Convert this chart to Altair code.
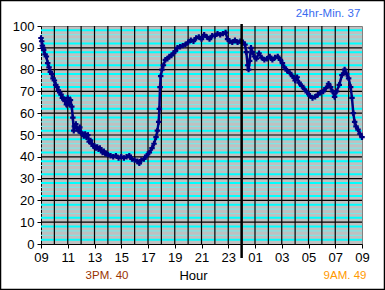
import altair as alt
import pandas as pd

# Readings: (hours since 09:00, value)
readings = [
    (0.00,94.5),(0.05,93),(0.10,91),(0.15,90),(0.20,89),(0.30,87),(0.40,86),(0.50,83),
    (0.60,81),(0.70,79),(0.80,78),(0.90,76),(1.00,75),(1.10,73),(1.20,72),(1.30,70.5),
    (1.40,69.5),(1.50,68.5),(1.60,67),(1.70,66.5),(1.80,65.5),(1.90,64),(2.00,67),(2.10,64.5),
    (2.20,66),(2.30,63),(2.38,58),(2.45,52),(2.50,54),(2.60,55),(2.70,53),(2.80,52),
    (2.90,53.5),(3.00,51),(3.10,50.5),(3.20,49.5),(3.30,50.5),(3.40,49),(3.50,50),(3.60,47),
    (3.70,47.5),(3.80,46),(3.90,45),(4.00,45),(4.10,44),(4.20,44.5),(4.30,43.5),(4.40,44),
    (4.50,43),(4.60,42),(4.70,42.5),(4.80,41.5),(4.90,41.5),(5.00,41),(5.20,40.5),(5.40,40),
    (5.60,40.5),(5.80,39.5),(6.00,40),(6.20,39.5),(6.40,40),(6.60,40.5),(6.80,39),(7.00,38.5),
    (7.20,38),(7.35,37),(7.50,38.5),(7.70,39),(7.90,40.5),(8.10,42),(8.30,44),(8.45,46),
    (8.60,49),(8.70,52),(8.80,56),(8.85,62),(8.90,72),(8.95,77),(9.05,80),(9.15,82),
    (9.30,84.5),(9.45,85),(9.60,86),(9.75,86.5),(9.90,87.5),(10.05,88.5),(10.20,90),(10.40,90.5),
    (10.60,91),(10.80,91.5),(11.00,92.5),(11.20,93.5),(11.40,93),(11.60,94.5),(11.80,95),(12.00,94),
    (12.20,96),(12.40,95),(12.60,94),(12.80,95.5),(13.00,95.5),(13.20,96.5),(13.40,96),(13.60,96.5),
    (13.80,97),(13.95,94),(14.10,93),(14.30,92.5),(14.50,93.5),(14.70,92.5),(14.90,93),(15.10,92.5),
    (15.25,91.5),(15.35,88),(15.45,82),(15.52,80),(15.60,84),(15.70,90),(15.80,88),(15.95,86),
    (16.10,85),(16.30,87.5),(16.50,85.5),(16.70,84.5),(16.90,85),(17.10,86),(17.30,84.5),(17.50,85.5),
    (17.70,86),(17.90,84.5),(18.05,83),(18.20,81),(18.40,79.5),(18.60,78.5),(18.80,77),(19.00,75),
    (19.15,76.5),(19.30,74),(19.50,72.5),(19.70,71),(19.90,69.5),(20.10,68),(20.30,67),(20.50,67.5),
    (20.70,68.5),(20.90,69.5),(21.10,70),(21.30,71.5),(21.50,73.5),(21.65,72),(21.80,70),(21.95,67.5),
    (22.10,70),(22.30,73),(22.50,77.5),(22.70,80),(22.85,78),(23.00,76),(23.15,72),(23.25,67),
    (23.35,60),(23.45,56),(23.55,54),(23.70,52.5),(23.85,50.5),(24.00,49),
]
hours = [r[0] for r in readings]
values = [r[1] for r in readings]

tick_labels = ["09", "11", "13", "15", "17", "19", "21", "23", "01", "03", "05", "07", "09"]
y_ticks = [0, 10, 20, 30, 40, 50, 60, 70, 80, 90, 100]
midnight = [15]
title_min = "24hr-Min. 37"
note_3pm = "3PM. 40"
note_9am = "9AM. 49"
x_title = "Hour"

FONT = "Liberation Sans"

df = pd.DataFrame({"h": hours, "v": values})
vgrid = pd.DataFrame({"h": list(range(1, 24))})
hmajor = pd.DataFrame({"v": list(range(10, 100, 10))})
hminor_a = pd.DataFrame({"v": [v for v in range(2, 100, 2) if v % 10 in (2, 8)]})
hminor_b = pd.DataFrame({"v": [v for v in range(2, 100, 2) if v % 10 in (4, 6)]})

xscale = alt.Scale(domain=[0, 24], nice=False, zero=False)
yscale = alt.Scale(domain=[0, 100], nice=False)

label_expr = "[" + ",".join("'%s'" % t for t in tick_labels) + "][round(datum.value/2)]"

xaxis = alt.Axis(values=list(range(0, 25, 2)), labelExpr=label_expr, title=None)
yaxis = alt.Axis(values=y_ticks, title=None)

minor_a = alt.Chart(hminor_a).mark_rule(color="#00FFFF", strokeWidth=2).encode(
    y=alt.Y("v:Q", scale=yscale, axis=yaxis))
minor_b = alt.Chart(hminor_b).mark_rule(color="#7EE6E6", strokeWidth=1.2).encode(
    y=alt.Y("v:Q", scale=yscale, axis=yaxis))
major = alt.Chart(hmajor).mark_rule(color="black", strokeWidth=1.2).encode(
    y=alt.Y("v:Q", scale=yscale, axis=yaxis))
vlines = alt.Chart(vgrid).mark_rule(color="black", strokeWidth=1.2).encode(
    x=alt.X("h:Q", scale=xscale, axis=xaxis))
mid = alt.Chart(pd.DataFrame({"h": midnight})).mark_rule(color="black", strokeWidth=2.5, clip=False).encode(
    x=alt.X("h:Q", scale=xscale, axis=xaxis), y=alt.value(-2), y2=alt.value(232))

line = alt.Chart(df).mark_line(color="#000080", strokeWidth=2.5).encode(
    x=alt.X("h:Q", scale=xscale, axis=xaxis), y=alt.Y("v:Q", scale=yscale, axis=yaxis))
pts = alt.Chart(df).mark_point(shape="cross", color="#000080", filled=True, size=30, opacity=1).encode(
    x=alt.X("h:Q", scale=xscale, axis=xaxis), y=alt.Y("v:Q", scale=yscale, axis=yaxis))

def txt(s, x, y, color, size=11.5):
    return alt.Chart(pd.DataFrame({"t": [s]})).mark_text(
        font=FONT, fontSize=size, color=color, align="center", baseline="middle").encode(
        text="t:N", x=alt.value(x), y=alt.value(y))

t1 = txt(title_min, 287, -12, "#3A6CF0")
t2 = txt(note_3pm, 66, 31.5 + 218, "#993300")
t3 = txt(x_title, 152.5, 31.5 + 218, "black", 13)
t4 = txt(note_9am, 304, 31.5 + 218, "#FF9900")

frame = alt.Chart(pd.DataFrame({"t": [0]})).mark_rect(
    fill=None, filled=False, stroke="black", strokeWidth=1.5, clip=False).encode(
    x=alt.value(-40.5), x2=alt.value(343.5), y=alt.value(-25.5), y2=alt.value(263.5))

chart = alt.layer(minor_a, minor_b, major, vlines, line, pts, mid, t1, t2, t3, t4, frame).properties(
    width=321, height=218,
    autosize=alt.AutoSizeParams(type="none"),
    padding={"left": 41, "top": 26, "right": 23, "bottom": 46},
    background="white",
).configure_view(
    fill="#C0C0C0", stroke="#808080", strokeWidth=1
).configure_axis(
    grid=False, tickSize=4, tickColor="black", domainColor="black", labelColor="black",
    labelFont=FONT, labelFontSize=13, labelPadding=3,
    labelOverlap=False, labelFlush=False, labelBound=False
)

chart.save("out.html", embed_options={"renderer": "svg", "actions": False})
